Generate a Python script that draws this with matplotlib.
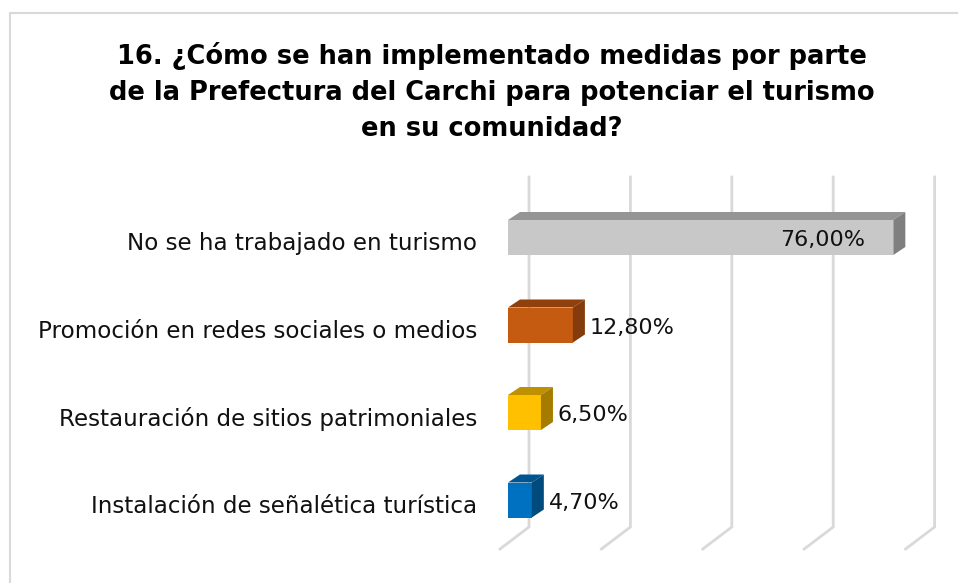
import numpy as np
import matplotlib.pyplot as plt
from matplotlib.patches import Polygon, Rectangle

categories = [
    "No se ha trabajado en turismo",
    "Promoción en redes sociales o medios",
    "Restauración de sitios patrimoniales",
    "Instalación de señalética turística",
]
values = [76.0, 12.8, 6.5, 4.7]
labels = ["76,00%", "12,80%", "6,50%", "4,70%"]
front_colors = ["#C8C8C8", "#C55A11", "#FFC000", "#0070C0"]
top_colors = ["#959595", "#8F400C", "#BF9000", "#00548F"]
side_colors = ["#7F7F7F", "#843C0C", "#A57C00", "#004A7D"]
grid_ticks = [0, 20, 40, 60, 80]

title = ("16. ¿Cómo se han implementado medidas por parte\n"
         "de la Prefectura del Carchi para potenciar el turismo\n"
         "en su comunidad?")

W, H = 958, 583
fig = plt.figure(figsize=(W / 100, H / 100), dpi=100)

# border of the chart area (right and bottom edges fall outside the picture)
fig.patches.append(Rectangle((10 / W, -0.1), 1.2, 1.1 - 13 / H, transform=fig.transFigure,
                             fill=False, edgecolor="#D9D9D9", linewidth=1.5))

# axes placed so that x=0 is the front of the bars
px_per_pct = 5.07
px_per_cat = 87.5
x0_px, top_px, bot_px = 508, 170, 560
xmax = 85
ax = fig.add_axes([x0_px / W, 1 - bot_px / H, xmax * px_per_pct / W, (bot_px - top_px) / H])
ax.set_xlim(0, xmax)
ax.set_ylim((bot_px - 237.5) / px_per_cat, (top_px - 237.5) / px_per_cat)
ax.axis("off")

# perspective offsets
bar_dx, bar_dy = 12 / px_per_pct, 8 / px_per_cat
wall_dx = 21 / px_per_pct
floor_dx, floor_dy = 29 / px_per_pct, 22 / px_per_cat
g_top, g_bot = (177 - 237.5) / px_per_cat, (527 - 237.5) / px_per_cat

for t in grid_ticks:
    xb = t + wall_dx
    ax.plot([xb, xb, xb - floor_dx], [g_top, g_bot, g_bot + floor_dy],
            color="#D9D9D9", linewidth=2, solid_joinstyle="miter", clip_on=False, zorder=1)

h = 0.4
y = np.arange(len(categories))
ax.barh(y, values, height=h, color=front_colors, zorder=3)
for yi, v, ct, cs in zip(y, values, top_colors, side_colors):
    yt = yi - h / 2
    yb = yi + h / 2
    ax.add_patch(Polygon([(0, yt), (v, yt), (v + bar_dx, yt - bar_dy), (bar_dx, yt - bar_dy)],
                         closed=True, facecolor=ct, edgecolor="none", zorder=3))
    ax.add_patch(Polygon([(v, yt), (v + bar_dx, yt - bar_dy), (v + bar_dx, yb - bar_dy), (v, yb)],
                         closed=True, facecolor=cs, edgecolor="none", zorder=3))

for yi, v, lab, cat in zip(y, values, labels, categories):
    if v > 50:
        ax.text(v - 5.6, yi + 0.03, lab, ha="right", va="center", fontsize=16, color="#111111", zorder=4)
    else:
        ax.text(v + 3.35, yi + 0.03, lab, ha="left", va="center", fontsize=16, color="#111111", zorder=4)
    ax.text(-6.1, yi + 0.07, cat, ha="right", va="center", fontsize=16.6, color="#111111", clip_on=False)

fig.text(492 / W, 1 - 92 / H, title, ha="center", va="center", fontsize=18.5,
         fontweight="bold", color="#000000", linespacing=1.5)

fig.savefig("out.png", dpi=100)
